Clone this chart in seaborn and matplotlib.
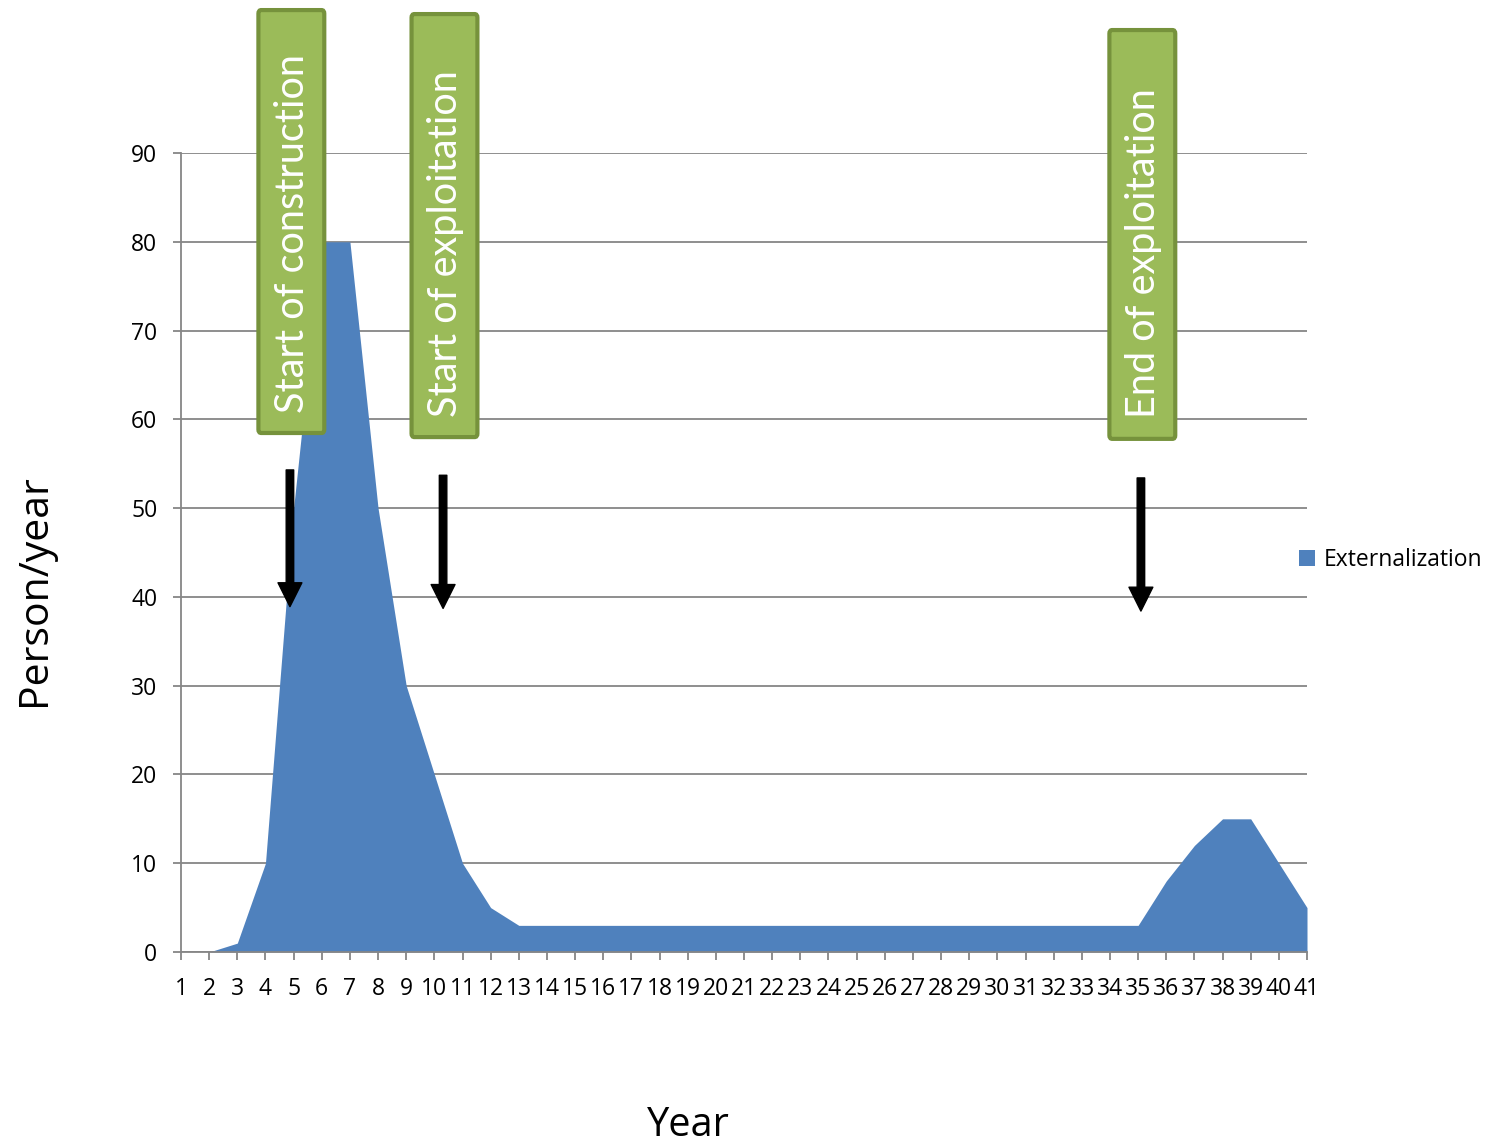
import numpy as np
import pandas as pd
import matplotlib
matplotlib.use("Agg")
import matplotlib.pyplot as plt
from matplotlib.patches import FancyBboxPatch
import seaborn as sns

# ---- data ----
years = list(range(1, 42))
externalization = [0, 0, 1, 10, 50, 80, 80, 50, 30, 20, 10, 5,
                   3, 3, 3, 3, 3, 3, 3, 3, 3, 3, 3, 3, 3, 3, 3, 3, 3, 3, 3, 3, 3, 3, 3,
                   8, 12, 15, 15, 10, 5]
y_ticks = [0, 10, 20, 30, 40, 50, 60, 70, 80, 90]
series_label = "Externalization"
x_title = "Year"
y_title = "Person/year"
event_labels = ["Start of construction", "Start of exploitation", "End of exploitation"]
event_years = [4.92, 10.36, 35.15]

df = pd.DataFrame({"Year": years, "Value": externalization})

sns.set_theme(style="white")
plt.rcParams["font.family"] = ["Open Sans", "DejaVu Sans"]
plt.rcParams["text.color"] = "black"

fig = plt.figure(figsize=(14.9, 11.48), dpi=100)
ax = fig.add_axes([181/1490, 196/1148, (1307-181)/1490, (952-153)/1148])

fill_color = "#4F81BD"
grid_color = "#868686"

sns.lineplot(data=df, x="Year", y="Value", ax=ax, color=fill_color, linewidth=0, legend=False)
ax.fill_between(df["Year"], 0, df["Value"], color=fill_color, linewidth=0,
                label=series_label, zorder=2)

ax.set_xlim(1, 41)
ax.set_ylim(0, 90)
ax.set_xticks(years)
ax.set_xticklabels([str(y) for y in years])
ax.set_yticks(y_ticks)
ax.yaxis.grid(True, color=grid_color, linewidth=1.3, zorder=1)
ax.set_axisbelow(True)
for s in ["top", "right"]:
    ax.spines[s].set_visible(False)
for s in ["left", "bottom"]:
    ax.spines[s].set_color(grid_color)
    ax.spines[s].set_linewidth(1.3)
ax.spines["bottom"].set_zorder(3)
ax.tick_params(axis="both", which="both", direction="out", color=grid_color,
               width=1.3, length=6, labelsize=16.5, labelcolor="black",
               bottom=True, left=True)
ax.tick_params(axis="x", pad=12)
ax.tick_params(axis="y", pad=11)
ax.set_xlabel("")
ax.set_ylabel("")

fig.text(688/1490, 2/1148, x_title, fontsize=28.5, ha="center", va="bottom", color="black")
fig.text(35/1490, 1 - 590/1148, y_title, fontsize=29.5, ha="center", va="center",
         rotation=90, color="black")

# legend
leg = fig.legend(loc="center left", bbox_to_anchor=(1299/1490, 1-560/1148),
                 frameon=False, fontsize=16.5, handlelength=0.7, handleheight=0.7,
                 handletextpad=0.4, borderaxespad=0, borderpad=0, labelcolor="black")

# event boxes (data coords, outside axes allowed)
box_tops = [106.1, 105.65, 103.85]
box_bottoms = [58.46, 58.0, 57.8]
box_width = 2.34
for lab, xc, top, bot in zip(event_labels, event_years, box_tops, box_bottoms):
    patch = FancyBboxPatch((xc - box_width/2, bot), box_width, top - bot,
                           boxstyle="round,pad=0,rounding_size=0.1",
                           facecolor="#9BBB59", edgecolor="#76923C", linewidth=3,
                           clip_on=False, zorder=5, mutation_aspect=4)
    ax.add_patch(patch)
    ax.text(xc + 0.05, bot + 2.3, lab, rotation=90, ha="center", va="bottom",
            color="white", fontsize=28.5, family=["Lato", "DejaVu Sans"],
            fontweight="normal", zorder=6, clip_on=False)

# arrows
arrow_x = [4.87, 10.31, 35.1]
arrow_top = [54.3, 53.7, 53.4]
arrow_bot = [38.9, 38.7, 38.4]
for xa, yt, yb in zip(arrow_x, arrow_top, arrow_bot):
    ax.annotate("", xy=(xa, yb), xytext=(xa, yt),
                arrowprops=dict(arrowstyle="simple,head_length=0.86,head_width=0.86,tail_width=0.27",
                                color="black", shrinkA=0, shrinkB=0, mutation_scale=20),
                zorder=7)

fig.savefig("out.png", dpi=100)
